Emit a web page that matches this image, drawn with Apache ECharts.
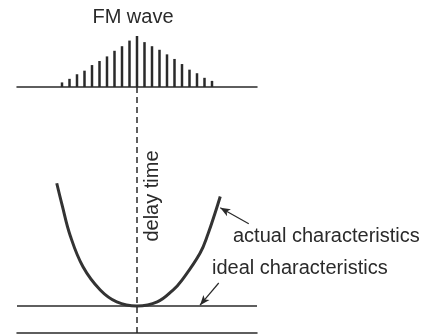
<!DOCTYPE html>
<html>
<head>
<meta charset="utf-8">
<script src="https://cdn.jsdelivr.net/npm/echarts@6/dist/echarts.min.js"></script>
<style>
    html, body { margin: 0; padding: 0; background: #fff; }
    #chart { width: 445px; height: 335px; }
</style>
</head>
<body>
<div id="chart"></div>
<script>
    // FM spectrum: sideband number (0 = carrier) and relative amplitude
    const bandIndex = [-10, -9, -8, -7, -6, -5, -4, -3, -2, -1, 0, 1, 2, 3, 4, 5, 6, 7, 8, 9, 10];
    const bandAmp = [0.09, 0.16, 0.25, 0.32, 0.43, 0.51, 0.60, 0.71, 0.80, 0.91, 1.0,
                     0.88, 0.80, 0.73, 0.64, 0.55, 0.45, 0.34, 0.27, 0.18, 0.12];

    // delay characteristic, frequency offset in sideband units
    const actualFreq  = [-10.7, -10.0, -8.9, -7.2, -4.9, -2.7, 0, 2.7, 4.8, 6.0, 8.4, 9.5, 10.4, 11.1];
    const actualDelay = [5.54, 4.75, 3.60, 2.45, 1.59, 1.15, 1.0, 1.15, 1.59, 1.96, 2.95, 3.69, 4.43, 5.05];
    const idealFreq  = [-16, 16];
    const idealDelay = [1.0, 1.0];

    const INK = '#2a2a2a';
    const FONT = 'Liberation Sans';

    const xRange = {min: -16, max: 16};

    const option = {
        animation: false,
        grid: [
            {left: 17, right: 188, top: 36, bottom: 248},
            {left: 17, right: 188, top: 87, bottom: 2}
        ],
        xAxis: [
            {
                type: 'value', gridIndex: 0, min: xRange.min, max: xRange.max,
                axisLine: {show: true, onZero: false, lineStyle: {color: INK, width: 1.5}},
                axisTick: {show: false}, axisLabel: {show: false}, splitLine: {show: false}
            },
            {
                type: 'value', gridIndex: 1, min: xRange.min, max: xRange.max,
                axisLine: {show: true, onZero: false, lineStyle: {color: INK, width: 1.5}},
                axisTick: {show: false}, axisLabel: {show: false}, splitLine: {show: false}
            }
        ],
        yAxis: [
            {type: 'value', gridIndex: 0, min: 0, max: 1, show: false},
            {type: 'value', gridIndex: 1, min: 0, max: 9.1, show: false}
        ],
        graphic: [
            {
                type: 'text', x: 133, y: 17,
                style: {text: 'FM wave', font: '20px "' + FONT + '"', fill: INK, align: 'center', verticalAlign: 'middle'}
            },
            {
                type: 'text', x: 152, y: 196, rotation: Math.PI / 2,
                style: {text: 'delay time', font: '20px "' + FONT + '"', fill: INK, align: 'center', verticalAlign: 'middle'}
            },
            {
                type: 'text', x: 233, y: 236,
                style: {text: 'actual characteristics', font: '20px "' + FONT + '"', fill: INK, align: 'left', verticalAlign: 'middle'}
            },
            {
                type: 'text', x: 212, y: 268,
                style: {text: 'ideal characteristics', font: '20px "' + FONT + '"', fill: INK, align: 'left', verticalAlign: 'middle'}
            }
        ],
        series: [
            {
                type: 'bar',
                xAxisIndex: 0, yAxisIndex: 0,
                barWidth: 2.5,
                itemStyle: {color: INK},
                data: bandIndex.map((b, i) => [b, bandAmp[i]])
            },
            {
                type: 'line',
                xAxisIndex: 1, yAxisIndex: 1,
                symbol: 'none',
                lineStyle: {color: INK, width: 1.5},
                data: idealFreq.map((f, i) => [f, idealDelay[i]]),
                markLine: {
                    silent: true,
                    symbol: 'none',
                    label: {show: false},
                    lineStyle: {color: INK, width: 1.5, type: [6, 4]},
                    data: [{xAxis: 0}]
                }
            },
            {
                type: 'line',
                xAxisIndex: 1, yAxisIndex: 1,
                symbol: 'none',
                smooth: 0.4,
                lineStyle: {color: '#333', width: 3},
                data: actualFreq.map((f, i) => [f, actualDelay[i]]),
                markLine: {
                    silent: true,
                    symbol: ['none', 'arrow'],
                    symbolSize: [6, 10],
                    label: {show: false},
                    lineStyle: {color: INK, width: 1.2, type: 'solid'},
                    data: [
                        [{coord: [14.9, 4.04]}, {coord: [11.1, 4.63]}],
                        [{coord: [10.9, 1.85]}, {coord: [8.4, 1.03]}]
                    ]
                }
            }
        ]
    };

    const chart = echarts.init(document.getElementById('chart'));
    chart.setOption(option);
</script>
</body>
</html>
